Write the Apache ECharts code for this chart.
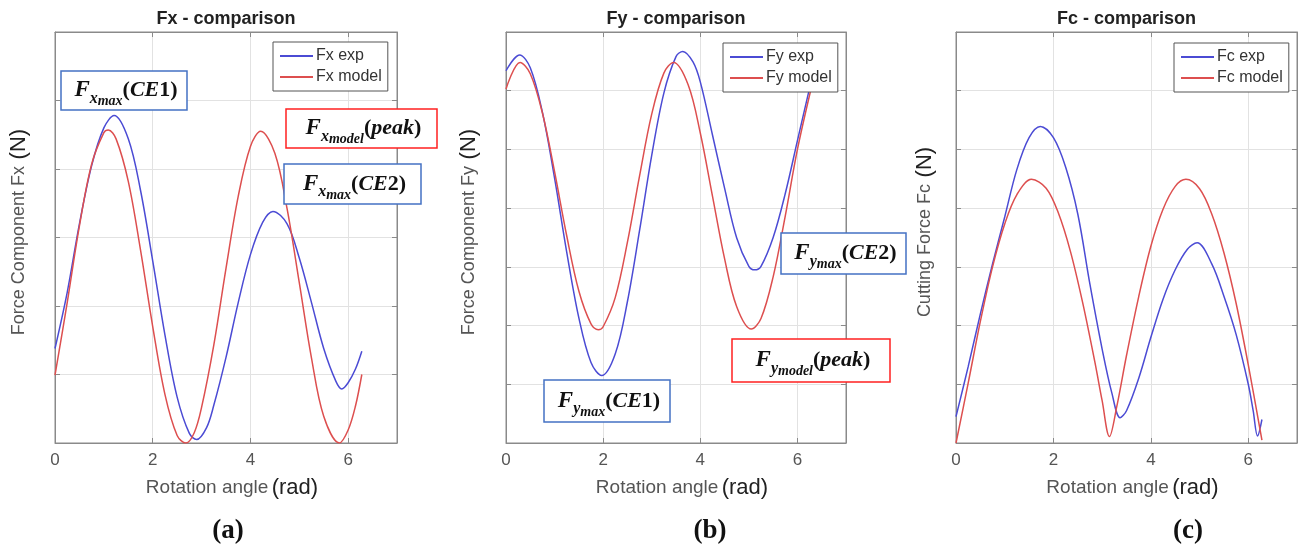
<!DOCTYPE html>
<html>
<head>
<meta charset="utf-8">
<script src="https://cdn.jsdelivr.net/npm/echarts@6/dist/echarts.min.js"></script>
<style>html,body{margin:0;padding:0;background:#fff}#c{width:1299px;height:551px}</style>
</head>
<body>
<div id="c"></div>
<script>
// ---- data ----
const PANEL_TITLES = ['Fx - comparison', 'Fy - comparison', 'Fc - comparison'];
const Y_NAMES = ['Force Component Fx', 'Force Component Fy', 'Cutting Force Fc'];
const SUB_LABELS = ['(a)', '(b)', '(c)'];
const X_TICKS = [0, 2, 4, 6];
const Y_MAX = [6, 7, 7];

const ANGLE_FX_EXP = [0,0.25,0.5,0.75,1.0,1.21,1.5,1.75,2.0,2.25,2.5,2.75,2.9,3.1,3.25,3.5,3.75,4.0,4.25,4.46,4.75,5.0,5.25,5.5,5.75,5.87,6.0,6.15,6.28];
const FX_EXP = [1.38,2.2,3.2,4.05,4.6,4.78,4.44,3.69,2.66,1.58,0.67,0.14,0.05,0.22,0.55,1.25,2.05,2.75,3.22,3.38,3.2,2.7,2.05,1.38,0.9,0.79,0.88,1.08,1.34];
const ANGLE_FX_MODEL = [0,0.25,0.5,0.75,1.0,1.09,1.25,1.5,1.75,2.0,2.25,2.5,2.68,2.85,3.0,3.25,3.5,3.75,4.0,4.21,4.5,4.75,5.0,5.25,5.5,5.82,6.0,6.15,6.28];
const FX_MODEL = [0.99,2.05,3.17,4.07,4.53,4.57,4.44,3.82,2.82,1.70,0.71,0.11,0.0,0.15,0.52,1.43,2.55,3.60,4.33,4.55,4.23,3.42,2.34,1.24,0.39,0.0,0.19,0.54,1.0];

const ANGLE_FY_EXP = [0,0.28,0.5,0.75,1.0,1.25,1.5,1.75,1.97,2.25,2.5,2.75,3.0,3.25,3.5,3.64,3.85,4.0,4.25,4.5,4.75,5.0,5.12,5.25,5.5,5.75,6.0,6.28];
const FY_EXP = [6.34,6.61,6.39,5.63,4.51,3.25,2.13,1.37,1.15,1.52,2.41,3.62,4.9,5.96,6.58,6.67,6.49,6.15,5.25,4.34,3.49,3.01,2.95,3.01,3.5,4.25,5.15,6.15];
const ANGLE_FY_MODEL = [0,0.29,0.5,0.75,1.0,1.25,1.5,1.75,1.9,2.0,2.25,2.5,2.75,3.0,3.25,3.45,3.75,4.0,4.25,4.5,4.75,5.05,5.25,5.5,5.75,6.0,6.28];
const FY_MODEL = [6.03,6.48,6.29,5.62,4.62,3.53,2.59,2.03,1.93,1.98,2.48,3.42,4.55,5.6,6.3,6.48,6.1,5.28,4.21,3.14,2.32,1.94,2.12,2.83,3.87,5.0,6.03];

const ANGLE_FC_EXP = [0,0.25,0.5,0.75,1.0,1.25,1.5,1.73,2.0,2.25,2.5,2.75,3.0,3.2,3.37,3.5,3.75,4.0,4.25,4.5,4.75,4.95,5.25,5.5,5.75,6.0,6.1,6.19,6.28];
const FC_EXP = [0.45,1.3,2.2,3.05,3.85,4.66,5.2,5.39,5.2,4.7,3.9,2.7,1.6,0.85,0.43,0.55,1.1,1.8,2.45,2.95,3.3,3.41,3.05,2.5,1.85,1.0,0.55,0.12,0.4];
const ANGLE_FC_MODEL = [0,0.25,0.5,0.75,1.0,1.25,1.55,1.85,2.1,2.35,2.6,2.85,3.0,3.15,3.3,3.5,3.75,4.0,4.25,4.5,4.72,5.0,5.25,5.5,5.75,6.0,6.28];
const FC_MODEL = [0,1.02,2.07,3.0,3.73,4.23,4.49,4.34,3.92,3.26,2.39,1.38,0.72,0.11,0.62,1.49,2.49,3.35,3.98,4.37,4.49,4.33,3.9,3.24,2.38,1.33,0.05];

const SERIES_NAMES = [['Fx exp','Fx model'],['Fy exp','Fy model'],['Fc exp','Fc model']];
const SERIES_ANGLES = [[ANGLE_FX_EXP, ANGLE_FX_MODEL],[ANGLE_FY_EXP, ANGLE_FY_MODEL],[ANGLE_FC_EXP, ANGLE_FC_MODEL]];
const SERIES_VALUES = [[FX_EXP, FX_MODEL],[FY_EXP, FY_MODEL],[FC_EXP, FC_MODEL]];

// ---- styling / layout ----
const BLUE = '#4b4bd4', RED = '#dd4f4f';
const AXIS_C = '#8a8a8a', GRID_C = '#e2e2e2';
const SANS = 'Liberation Sans, Arial, sans-serif';
const SERIF = 'Liberation Serif, Times New Roman, serif';
const GRIDS = [
  {left: 55, top: 32, width: 342, height: 411},
  {left: 506, top: 32, width: 340, height: 411},
  {left: 956, top: 32, width: 341, height: 411}
];
const LEGEND_POS = [[273, 42], [723, 43], [1174, 43]];

const chart = echarts.init(document.getElementById('c'), null, {renderer: 'canvas'});

const xAxes = [], yAxes = [], series = [], legends = [], titles = [], graphics = [];
GRIDS.forEach((g, i) => {
  const common = {type: 'value', gridIndex: i,
    axisLine: {show: true, onZero: false, lineStyle: {color: AXIS_C, width: 1}},
    axisTick: {show: true, inside: true, length: 5, lineStyle: {color: AXIS_C}}};
  xAxes.push(Object.assign({}, common, {position: 'bottom', min: 0, max: 7, interval: 2,
    axisLabel: {show: true, fontSize: 17, color: '#555', fontFamily: SANS, margin: 9, showMaxLabel: false,
      formatter: v => X_TICKS.indexOf(v) >= 0 ? String(v) : ''},
    splitLine: {show: true, lineStyle: {color: GRID_C, width: 1}}}));
  xAxes.push(Object.assign({}, common, {position: 'top', min: 0, max: 7, interval: 2,
    axisLabel: {show: false}, splitLine: {show: false}}));
  yAxes.push(Object.assign({}, common, {position: 'left', min: 0, max: Y_MAX[i], interval: 1,
    axisLabel: {show: false}, splitLine: {show: true, lineStyle: {color: GRID_C, width: 1}}}));
  yAxes.push(Object.assign({}, common, {position: 'right', min: 0, max: Y_MAX[i], interval: 1,
    axisLabel: {show: false}, splitLine: {show: false}}));

  [0, 1].forEach(k => {
    const xs = SERIES_ANGLES[i][k], ys = SERIES_VALUES[i][k];
    series.push({
      name: SERIES_NAMES[i][k], type: 'line', xAxisIndex: 2 * i, yAxisIndex: 2 * i,
      data: xs.map((x, j) => [x, ys[j]]), showSymbol: false, smooth: 0.35,
      lineStyle: {color: k === 0 ? BLUE : RED, width: 1.5},
      itemStyle: {color: k === 0 ? BLUE : RED}, z: 3, silent: true, animation: false
    });
  });

  legends.push({
    data: SERIES_NAMES[i], orient: 'vertical', left: LEGEND_POS[i][0], top: LEGEND_POS[i][1],
    icon: 'rect', itemWidth: 33, itemHeight: 2, itemGap: 5,
    padding: [6, 6, 6, 7], backgroundColor: '#fff', borderColor: '#555', borderWidth: 1,
    textStyle: {fontSize: 16, color: '#333', fontFamily: SANS, padding: [0, 0, 0, -2]},
    selectedMode: false, z: 6
  });

  titles.push({text: PANEL_TITLES[i], left: g.left + g.width / 2, top: 10, textAlign: 'center', padding: 0,
    textStyle: {fontSize: 18, fontWeight: 'bold', color: '#222', fontFamily: SANS}});

  // x axis name
  graphics.push({type: 'text', x: g.left + g.width / 2 + 6, y: 488, z: 50,
    style: {text: '{a|Rotation angle} {b|(rad)}', align: 'center', verticalAlign: 'middle',
      rich: {a: {fontSize: 19, fill: '#555', fontFamily: SANS}, b: {fontSize: 22, fill: '#222', fontFamily: SANS}}}});
  // y axis name
  graphics.push({type: 'text', x: [19, 469, 925][i], y: 232, rotation: Math.PI / 2, z: 50,
    style: {text: '{a|' + Y_NAMES[i] + '}  {b|(N)}', align: 'center', verticalAlign: 'middle',
      rich: {a: {fontSize: 18, fill: '#555', fontFamily: SANS}, b: {fontSize: 22, fill: '#222', fontFamily: SANS}}}});
  // sub-figure label
  graphics.push({type: 'text', x: [228, 710, 1188][i], y: 531, z: 50,
    style: {text: SUB_LABELS[i], align: 'center', verticalAlign: 'middle',
      fontSize: 27, fontWeight: 'bold', fill: '#111', fontFamily: SERIF}});
});

// annotation boxes
const RICH = {
  F: {fontSize: 23, fontWeight: 'bold', fontStyle: 'italic', fontFamily: SERIF, fill: '#111'},
  s1: {fontSize: 16, fontWeight: 'bold', fontStyle: 'italic', fontFamily: SERIF, fill: '#111', padding: [16, 0, 0, 0]},
  s2: {fontSize: 14, fontWeight: 'bold', fontStyle: 'italic', fontFamily: SERIF, fill: '#111', padding: [22, 0, 0, 0]},
  p: {fontSize: 22, fontWeight: 'bold', fontFamily: SERIF, fill: '#111'},
  t: {fontSize: 22, fontWeight: 'bold', fontStyle: 'italic', fontFamily: SERIF, fill: '#111'},
  n: {fontSize: 22, fontWeight: 'bold', fontFamily: SERIF, fill: '#111'}
};
const ANNOTS = [
  // cx, cy, w, h, color, sub, subsub, inner
  [124, 90.5, 126, 39, '#4472c4', 'x', 'max', '{t|CE}{n|1}'],
  [361.5, 128.5, 151, 39, '#ff2020', 'x', 'model', '{t|peak}'],
  [352.5, 184, 137, 40, '#4472c4', 'x', 'max', '{t|CE}{n|2}'],
  [607, 401, 126, 42, '#4472c4', 'y', 'max', '{t|CE}{n|1}'],
  [811, 360.5, 158, 43, '#ff2020', 'y', 'model', '{t|peak}'],
  [843.5, 253.5, 125, 41, '#4472c4', 'y', 'max', '{t|CE}{n|2}']
];
ANNOTS.forEach(a => {
  const [cx, cy, w, h, col, s1, s2, inner] = a;
  graphics.push({type: 'rect', z: 60, shape: {x: cx - w / 2, y: cy - h / 2, width: w, height: h},
    style: {fill: '#fff', stroke: col, lineWidth: 1.5}});
  graphics.push({type: 'text', z: 61, x: cx + 2, y: cy,
    style: {text: '{F|F}{s1|' + s1 + '}{s2|' + s2 + '}{p|(}' + inner + '{p|)}', rich: RICH,
      align: 'center', verticalAlign: 'middle'}});
});

chart.setOption({
  animation: false,
  backgroundColor: '#fff',
  title: titles,
  grid: GRIDS.map(g => Object.assign({show: true, borderColor: AXIS_C, borderWidth: 1, backgroundColor: '#fff'}, g)),
  xAxis: xAxes,
  yAxis: yAxes,
  legend: legends,
  series: series,
  graphic: graphics
});
</script>
</body>
</html>
